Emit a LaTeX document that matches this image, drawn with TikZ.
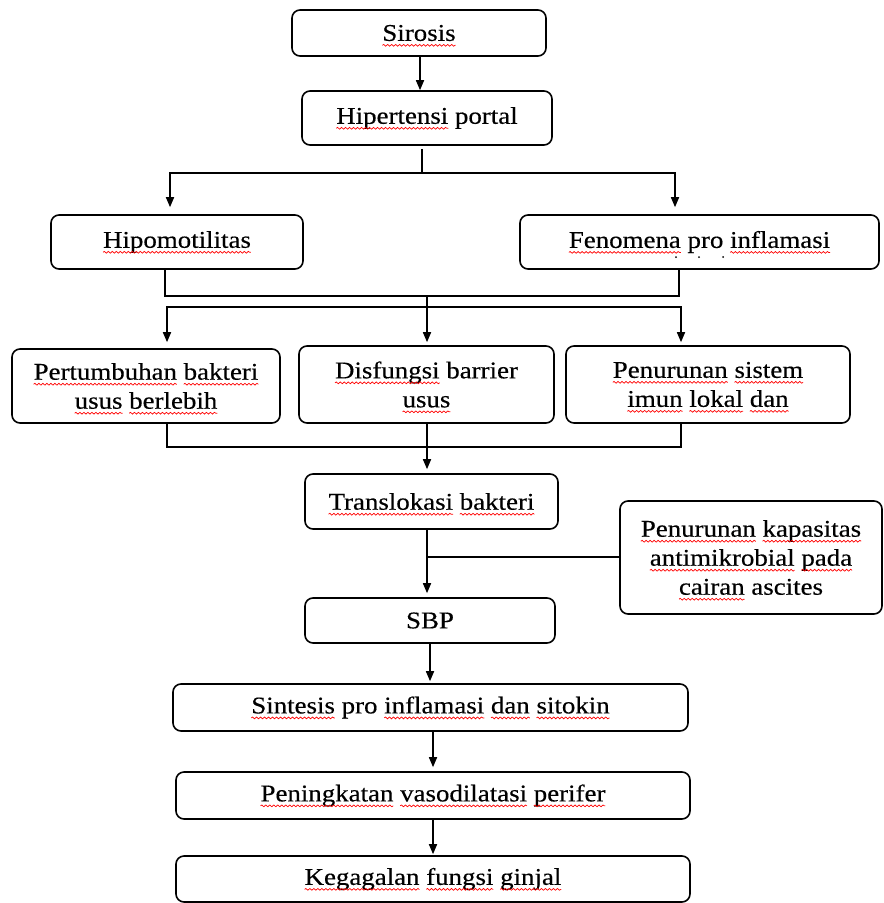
\documentclass[tikz,border=0pt]{standalone}
\usepackage{fontspec}
\setmainfont{Liberation Serif}[FakeStretch=1.12,FakeBold=0.4]
\usetikzlibrary{arrows.meta,calc,decorations.pathmorphing}
\newcommand\sqw[1]{\tikz[baseline=(w.base)]{\node[inner sep=0pt,outer sep=0pt,draw=none,minimum width=0pt,minimum height=0pt,rounded corners=0pt] (w) {#1};\draw[overlay,red,line width=0.7pt,sharp corners,decorate,decoration={snake,amplitude=0.9pt,segment length=4pt}] ([yshift=-4.5pt]w.base west) -- ([yshift=-4.5pt]w.base east);}}
\tikzset{
 box/.style={draw, line width=1.6pt, rounded corners=8pt, inner sep=0pt, align=center, font=\fontsize{24}{29}\selectfont},
 ln/.style={line width=1.6pt},
 arr/.style={ln, -{Triangle[length=10pt,width=8pt]}},
}
\begin{document}
\begin{tikzpicture}[x=1pt,y=-1pt]
\useasboundingbox (0,0) rectangle (884,903);
\node[box, minimum width=254pt, minimum height=46pt] (sir) at (419,33) {\sqw{Sirosis}};
\node[box, minimum width=250pt, minimum height=54pt] (hip) at (427,118) {\sqw{Hipertensi} portal};
\node[box, minimum width=252pt, minimum height=54pt] (hmo) at (177,242) {\sqw{Hipomotilitas}};
\node[box, minimum width=359pt, minimum height=54pt] (fen) at (699.5,242) {\sqw{Fenomena} pro \sqw{inflamasi}};
\node[box, minimum width=268pt, minimum height=74pt] (pb) at (146,386) {\sqw{Pertumbuhan} \sqw{bakteri}\\\sqw{usus} \sqw{berlebih}};
\node[box, minimum width=255pt, minimum height=77pt] (dis) at (426.5,384.5) {\sqw{Disfungsi} barrier\\\sqw{usus}};
\node[box, minimum width=284pt, minimum height=77pt] (pen) at (708,384.5) {\sqw{Penurunan} \sqw{sistem}\\\sqw{imun} \sqw{lokal} \sqw{dan}};
\node[box, minimum width=253pt, minimum height=55pt] (tra) at (431.5,501.5) {\sqw{Translokasi} \sqw{bakteri}};
\node[box, minimum width=262pt, minimum height=113pt] (kap) at (751,557.5) {\sqw{Penurunan} \sqw{kapasitas}\\\sqw{antimikrobial} \sqw{pada}\\\sqw{cairan} ascites};
\node[box, minimum width=250pt, minimum height=45pt] (sbp) at (430,620.5) {SBP};
\node[box, minimum width=515pt, minimum height=47pt] (sin) at (430.5,707.5) {\sqw{Sintesis} pro \sqw{inflamasi} \sqw{dan} \sqw{sitokin}};
\node[box, minimum width=514pt, minimum height=47pt] (pv) at (433,795.5) {\sqw{Peningkatan} \sqw{vasodilatasi} \sqw{perifer}};
\node[box, minimum width=514pt, minimum height=46pt] (keg) at (433,879) {\sqw{Kegagalan} \sqw{fungsi} \sqw{ginjal}};
% faint dots under Fenomena
\foreach \dx in {676,699,723}{\fill (\dx,257) circle (1pt);}
% connectors
\draw[arr] ($(sir.south)+(1,0)$) -- ($(sir.south |- hip.north)+(1,0)$);
\coordinate (j1) at (422,173);
\draw[ln] ($(hip.south)+(-5,3)$) -- (j1);
\draw[arr] (j1) -| ($(hmo.north)+(-7,-7)$);
\draw[arr] (j1) -| ($(fen.north)+(-24.5,-7)$);
\coordinate (j2) at (427,295);
\coordinate (j3) at (427,307);
\draw[ln] ($(hmo.south)+(-12,0)$) |- ($(fen.south)+(-20.5,26)$) -- ($(fen.south)+(-20.5,0)$);
\draw[ln] (j2) -- (j3);
\draw[arr] (j3) -| ($(pb.north)+(21,-6)$);
\draw[arr] (j3) -- ($(dis.north)+(0.5,-3)$);
\draw[arr] (j3) -| ($(pen.north)+(-27,-3)$);
\draw[ln] ($(pb.south)+(21,0)$) |- ($(pen.south)+(-27,23)$) -- ($(pen.south)+(-27,0)$);
\draw[arr] ($(dis.south)+(0.5,0)$) -- ($(dis.south |- tra.north)+(0.5,-4)$);
\coordinate (j4) at (427,557);
\draw[arr] ($(tra.south)+(-4.5,0)$) -- ($(sbp.north)+(-3,-4)$);
\draw[ln] ($(kap.west)+(0,-0.5)$) -- (j4);
\draw[arr, shorten >=2pt] (sbp.south) -- (sbp.south |- sin.north);
\draw[arr, shorten >=4pt] (pv.north |- sin.south) -- (pv.north);
\draw[arr, shorten >=1pt] (pv.south) -- (keg.north);
\end{tikzpicture}
\end{document}
